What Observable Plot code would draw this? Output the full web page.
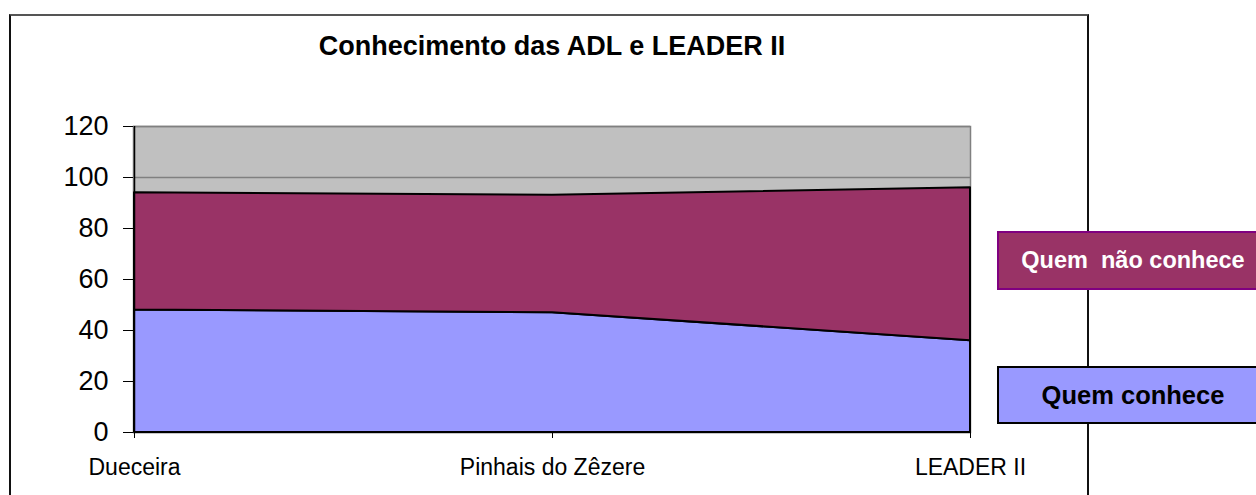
<!DOCTYPE html>
<html>
<head>
<meta charset="utf-8">
<script src="https://cdn.jsdelivr.net/npm/d3@7"></script>
<script src="https://cdn.jsdelivr.net/npm/@observablehq/plot@0.6"></script>
<style>
  html, body { margin: 0; padding: 0; background: #fff; overflow: hidden; }
  #wrap { position: relative; width: 1256px; height: 495px; overflow: hidden; font-family: "Liberation Sans", Arial, sans-serif; }
  #frame { position: absolute; left: 9px; top: 14px; width: 1080px; height: 600px; box-sizing: border-box; border: 2px solid #111; border-top-color: #555; }
  #title { position: absolute; left: 0; width: 1104px; top: 31px; text-align: center; font-weight: bold; font-size: 27px; color: #000; white-space: pre; }
  #chart { position: absolute; left: 0; top: 0; }
  .leg { position: absolute; left: 997px; width: 272px; box-sizing: border-box; display: flex; align-items: center; justify-content: center; font-weight: bold; white-space: pre; }
</style>
</head>
<body>
<div id="wrap">
  <div id="frame"></div>
  <div id="title"></div>
  <div id="chart"></div>
</div>
<script>
const titleText = "Conhecimento das ADL e LEADER II";
const categories = ["Dueceira", "Pinhais do Zêzere", "LEADER II"];
const seriesNames = ["Quem conhece", "Quem  não conhece"];
const quemConhece = [48, 47, 36];
const quemNaoConhece = [46, 46, 60];
const yTicks = [0, 20, 40, 60, 80, 100, 120];
const seriesColors = ["#9999FF", "#993366"];

const data = [];
categories.forEach((c, i) => {
  data.push({cat: c, series: seriesNames[0], value: quemConhece[i]});
  data.push({cat: c, series: seriesNames[1], value: quemNaoConhece[i]});
});

document.getElementById("title").textContent = titleText;

const chart = Plot.plot({
  width: 1256,
  height: 495,
  marginLeft: 133,
  marginRight: 286,
  marginTop: 126,
  marginBottom: 63,
  style: {fontFamily: "'Liberation Sans', Arial, sans-serif", background: "transparent", color: "#000"},
  x: {type: "point", domain: categories, padding: 0},
  y: {domain: [0, 120]},
  color: {domain: seriesNames, range: seriesColors},
  marks: [
    Plot.frame({fill: "#C0C0C0", stroke: "#808080", strokeWidth: 1.5}),
    Plot.ruleY(yTicks, {stroke: "#808080", strokeWidth: 1.5}),
    Plot.areaY(data, {x: "cat", y: "value", z: "series", fill: "series", stroke: "#000", strokeWidth: 2, strokeLinejoin: "round"}),
    Plot.ruleX([categories[0]], {y1: 0, y2: 120, stroke: "#000", strokeWidth: 1.5}),
    Plot.axisY({ticks: yTicks, tickSize: 10, tickPadding: 15, fontSize: 27, label: null, stroke: "#000"}),
    Plot.axisX({tickSize: 6, tickPadding: 20, fontSize: 23, label: null, stroke: "#000"})
  ]
});
document.getElementById("chart").appendChild(chart);

const wrap = document.getElementById("wrap");
const legendSpecs = [
  {name: seriesNames[1], top: 231, height: 59, bg: seriesColors[1], border: "#800080", color: "#fff", size: 23.5},
  {name: seriesNames[0], top: 366, height: 58, bg: seriesColors[0], border: "#000", color: "#000", size: 25.5}
];
legendSpecs.forEach(s => {
  const d = document.createElement("div");
  d.className = "leg";
  d.style.top = s.top + "px";
  d.style.height = s.height + "px";
  d.style.background = s.bg;
  d.style.border = "2px solid " + s.border;
  d.style.color = s.color;
  d.style.fontSize = s.size + "px";
  d.textContent = s.name;
  wrap.appendChild(d);
});
</script>
</body>
</html>
